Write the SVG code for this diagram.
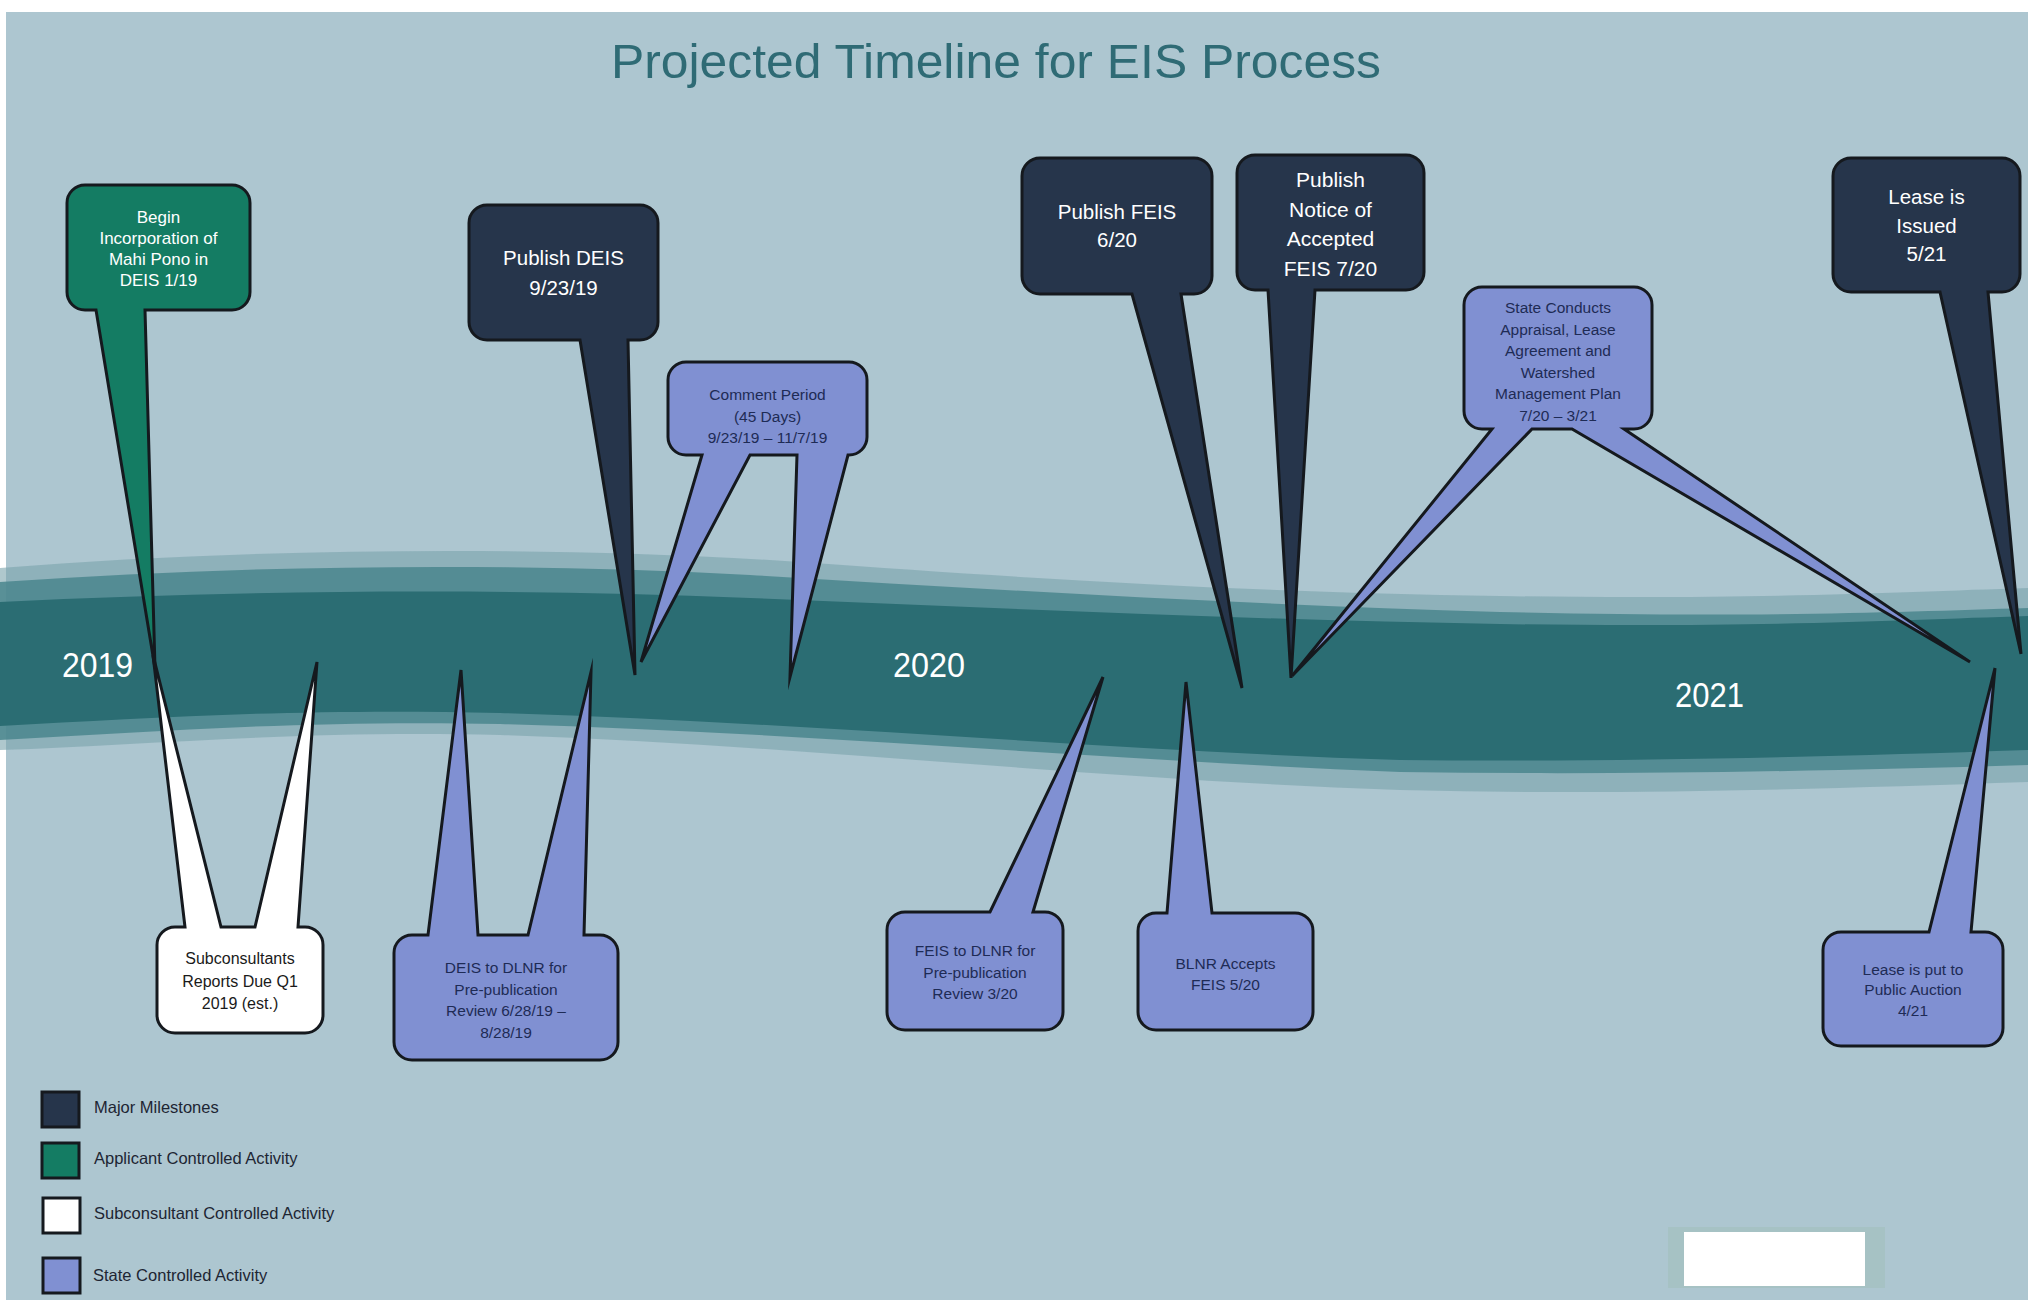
<svg xmlns="http://www.w3.org/2000/svg" width="2028" height="1307" viewBox="0 0 2028 1307">
<style>
.co{stroke:#15191e;stroke-width:3;stroke-linejoin:miter;stroke-miterlimit:10}
.navy{fill:#26354b}
.green{fill:#147c63}
.white{fill:#ffffff}
.peri{fill:#8090d2}
.t{font-family:"Liberation Sans",Arial,sans-serif;text-anchor:middle}
.tw{fill:#ffffff}
.td{fill:#1e2b55}
.tb{fill:#1a1a1a}
.yr{font-family:"Liberation Sans",Arial,sans-serif;font-size:35px;fill:#ffffff}
.lg{font-family:"Liberation Sans",Arial,sans-serif;font-size:16.5px;fill:#1d2533}
.sq{stroke:#15191e;stroke-width:3}
</style>
<rect x="0" y="0" width="2028" height="1307" fill="#ffffff"/>
<rect x="6" y="12" width="2022" height="1288" fill="#adc6d0"/>
<g id="band">
<path fill="#7aa4ab" opacity="0.6" d="M0,568 C250,548 550,545 800,562 C1050,580 1250,592 1500,596 C1750,600 1900,592 2028,588 L2028,782 C1800,790 1600,795 1400,790 C1100,780 800,745 500,735 C300,730 150,745 0,750 Z"/>
<path fill="#4a868d" opacity="0.85" d="M0,582 C250,565 500,562 750,575 C1000,590 1250,605 1500,612 C1750,618 1900,612 2028,608 L2028,765 C1800,772 1600,775 1400,772 C1100,760 800,732 500,724 C300,720 150,732 0,740 Z"/>
<path fill="#2b6d73" d="M0,602 C250,590 500,588 750,598 C1000,608 1250,620 1500,624 C1750,628 1900,620 2028,616 L2028,750 C1800,758 1600,762 1400,760 C1100,750 800,722 500,713 C300,708 150,718 0,726 Z"/>
<text class="yr" x="62" y="677" textLength="71" lengthAdjust="spacingAndGlyphs">2019</text>
<text class="yr" x="893" y="677" textLength="72" lengthAdjust="spacingAndGlyphs">2020</text>
<text class="yr" x="1675" y="707" textLength="69" lengthAdjust="spacingAndGlyphs">2021</text>
</g>
<text x="996" y="78" font-family="'Liberation Sans',Arial,sans-serif" font-size="48" fill="#2f6b75" text-anchor="middle" textLength="770" lengthAdjust="spacingAndGlyphs">Projected Timeline for EIS Process</text>
<g id="connectors"></g>
<g id="n-subconsultants">
<path class="co white" d="M175,927 H185 L153,655 L221,927 H255 L317,662 L298,927 H305 A18,18 0 0 1 323,945 V1015 A18,18 0 0 1 305,1033 H175 A18,18 0 0 1 157,1015 V945 A18,18 0 0 1 175,927 Z"/>
<text class="t tb" font-size="16"><tspan x="240" y="964">Subconsultants</tspan><tspan x="240" y="986.5">Reports Due Q1</tspan><tspan x="240" y="1009">2019 (est.)</tspan></text>
</g>
<g id="n-begin">
<path class="co green" d="M85,185 H232 A18,18 0 0 1 250,203 V292 A18,18 0 0 1 232,310 H145 L155,668 L96,310 H85 A18,18 0 0 1 67,292 V203 A18,18 0 0 1 85,185 Z"/>
<text class="t tw" font-size="17"><tspan x="158.5" y="223">Begin</tspan><tspan x="158.5" y="244">Incorporation of</tspan><tspan x="158.5" y="265">Mahi Pono in</tspan><tspan x="158.5" y="286">DEIS 1/19</tspan></text>
</g>
<g id="n-deis-dlnr">
<path class="co peri" d="M412,935 H428 L461,670 L478,935 H528 L591,672 L584,935 H600 A18,18 0 0 1 618,953 V1042 A18,18 0 0 1 600,1060 H412 A18,18 0 0 1 394,1042 V953 A18,18 0 0 1 412,935 Z"/>
<text class="t td" font-size="15.5"><tspan x="506" y="973">DEIS to DLNR for</tspan><tspan x="506" y="994.5">Pre-publication</tspan><tspan x="506" y="1016">Review 6/28/19 –</tspan><tspan x="506" y="1037.5">8/28/19</tspan></text>
</g>
<g id="n-comment">
<path class="co peri" d="M686,362 H849 A18,18 0 0 1 867,380 V437 A18,18 0 0 1 849,455 H848 L790,677 L797,455 H750 L641,662 L702,455 H686 A18,18 0 0 1 668,437 V380 A18,18 0 0 1 686,362 Z"/>
<text class="t td" font-size="15.5"><tspan x="767.5" y="400">Comment Period</tspan><tspan x="767.5" y="421.5">(45 Days)</tspan><tspan x="767.5" y="443">9/23/19 – 11/7/19</tspan></text>
</g>
<g id="n-publish-deis">
<path class="co navy" d="M487,205 H640 A18,18 0 0 1 658,223 V322 A18,18 0 0 1 640,340 H628 L635,675 L580,340 H487 A18,18 0 0 1 469,322 V223 A18,18 0 0 1 487,205 Z"/>
<text class="t tw" font-size="20.5"><tspan x="563.5" y="265">Publish DEIS</tspan><tspan x="563.5" y="295">9/23/19</tspan></text>
</g>
<g id="n-feis-dlnr">
<path class="co peri" d="M905,912 H990 L1103,677 L1033,912 H1045 A18,18 0 0 1 1063,930 V1012 A18,18 0 0 1 1045,1030 H905 A18,18 0 0 1 887,1012 V930 A18,18 0 0 1 905,912 Z"/>
<text class="t td" font-size="15.5"><tspan x="975" y="956">FEIS to DLNR for</tspan><tspan x="975" y="977.5">Pre-publication</tspan><tspan x="975" y="999">Review 3/20</tspan></text>
</g>
<g id="n-blnr">
<path class="co peri" d="M1156,913 H1167 L1186,682 L1212,913 H1295 A18,18 0 0 1 1313,931 V1012 A18,18 0 0 1 1295,1030 H1156 A18,18 0 0 1 1138,1012 V931 A18,18 0 0 1 1156,913 Z"/>
<text class="t td" font-size="15.5"><tspan x="1225.5" y="969">BLNR Accepts</tspan><tspan x="1225.5" y="990">FEIS 5/20</tspan></text>
</g>
<g id="n-state">
<path class="co peri" d="M1482,287 H1634 A18,18 0 0 1 1652,305 V411 A18,18 0 0 1 1634,429 H1624 L1970,662 L1572,429 H1532 L1292,676 L1492,429 H1482 A18,18 0 0 1 1464,411 V305 A18,18 0 0 1 1482,287 Z"/>
<text class="t td" font-size="15.5"><tspan x="1558" y="313">State Conducts</tspan><tspan x="1558" y="334.5">Appraisal, Lease</tspan><tspan x="1558" y="356">Agreement and</tspan><tspan x="1558" y="377.5">Watershed</tspan><tspan x="1558" y="399">Management Plan</tspan><tspan x="1558" y="420.5">7/20 – 3/21</tspan></text>
</g>
<g id="n-publish-feis">
<path class="co navy" d="M1040,158 H1194 A18,18 0 0 1 1212,176 V276 A18,18 0 0 1 1194,294 H1181 L1242,688 L1132,294 H1040 A18,18 0 0 1 1022,276 V176 A18,18 0 0 1 1040,158 Z"/>
<text class="t tw" font-size="20.5"><tspan x="1117" y="219">Publish FEIS</tspan><tspan x="1117" y="247">6/20</tspan></text>
</g>
<g id="n-notice">
<path class="co navy" d="M1255,155 H1406 A18,18 0 0 1 1424,173 V272 A18,18 0 0 1 1406,290 H1315 L1291,678 L1268,290 H1255 A18,18 0 0 1 1237,272 V173 A18,18 0 0 1 1255,155 Z"/>
<text class="t tw" font-size="21"><tspan x="1330.5" y="186.5">Publish</tspan><tspan x="1330.5" y="216.5">Notice of</tspan><tspan x="1330.5" y="246">Accepted</tspan><tspan x="1330.5" y="275.5">FEIS 7/20</tspan></text>
</g>
<g id="n-auction">
<path class="co peri" d="M1841,932 H1929 L1995,668 L1971,932 H1985 A18,18 0 0 1 2003,950 V1028 A18,18 0 0 1 1985,1046 H1841 A18,18 0 0 1 1823,1028 V950 A18,18 0 0 1 1841,932 Z"/>
<text class="t td" font-size="15.5"><tspan x="1913" y="975">Lease is put to</tspan><tspan x="1913" y="995">Public Auction</tspan><tspan x="1913" y="1016">4/21</tspan></text>
</g>
<g id="n-lease-issued">
<path class="co navy" d="M1851,158 H2002 A18,18 0 0 1 2020,176 V274 A18,18 0 0 1 2002,292 H1988 L2021,654 L1940,292 H1851 A18,18 0 0 1 1833,274 V176 A18,18 0 0 1 1851,158 Z"/>
<text class="t tw" font-size="20.5"><tspan x="1926.5" y="204">Lease is</tspan><tspan x="1926.5" y="233">Issued</tspan><tspan x="1926.5" y="261">5/21</tspan></text>
</g>
<g id="legend">
<rect class="sq navy" x="42" y="1092" width="37" height="35"/>
<text class="lg" x="94" y="1113">Major Milestones</text>
<rect class="sq green" x="42" y="1143" width="37" height="35"/>
<text class="lg" x="94" y="1164">Applicant Controlled Activity</text>
<rect class="sq white" x="43" y="1198" width="37" height="35"/>
<text class="lg" x="94" y="1219">Subconsultant Controlled Activity</text>
<rect class="sq peri" x="43" y="1258" width="37" height="35"/>
<text class="lg" x="93" y="1281">State Controlled Activity</text>
</g>
<rect x="1668" y="1227" width="217" height="61" fill="#a6c2c4"/>
<rect x="1684" y="1232" width="181" height="54" fill="#ffffff"/>
</svg>
